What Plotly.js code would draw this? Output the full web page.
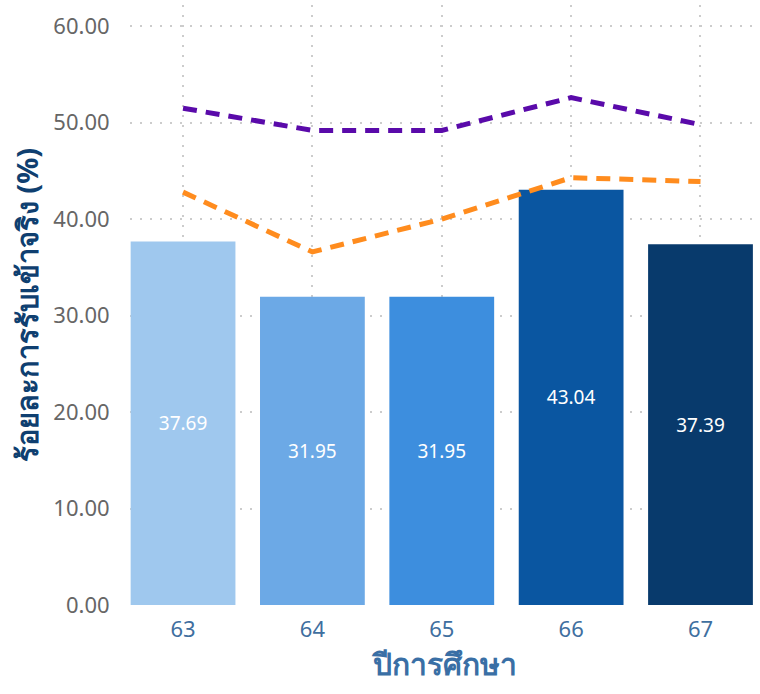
<!DOCTYPE html>
<html>
<head>
<meta charset="utf-8">
<script src="https://cdn.plot.ly/plotly-3.0.1.min.js"></script>
<style>html,body{margin:0;padding:0;background:#fff;overflow:hidden}#chart{width:760px;height:694px}</style>
</head>
<body>
<div id="chart"></div>
<script>
var categories = ['63', '64', '65', '66', '67'];
var actualRate = [37.69, 31.95, 31.95, 43.04, 37.39];
var purpleLine = [51.5, 49.2, 49.2, 52.6, 49.8];
var orangeLine = [42.8, 36.6, 40.0, 44.3, 43.9];
var barColors = ['#9FC8EE', '#6CA9E6', '#3D8EDE', '#0A56A1', '#083A6C'];
var yTickVals = [0, 10, 20, 30, 40, 50, 60];
var yTickText = ['0.00', '10.00', '20.00', '30.00', '40.00', '50.00', '60.00'];

var traces = [
  {
    type: 'bar', x: categories, y: actualRate,
    marker: {color: barColors},
    width: 0.81,
    text: actualRate.map(function(v){return v.toFixed(2);}),
    textposition: 'inside', insidetextanchor: 'middle',
    textfont: {color: '#ffffff', size: 19, family: 'Noto Sans, Open Sans, sans-serif'},
    hoverinfo: 'skip', showlegend: false
  },
  {
    type: 'scatter', mode: 'lines', x: categories, y: purpleLine,
    line: {color: '#5A0AAA', width: 5, dash: '14px,9px'},
    hoverinfo: 'skip', showlegend: false
  },
  {
    type: 'scatter', mode: 'lines', x: categories, y: orangeLine,
    line: {color: '#FF8C1E', width: 5, dash: '14px,9px'},
    hoverinfo: 'skip', showlegend: false
  }
];

var layout = {
  width: 760, height: 694,
  margin: {l: 130, r: 0, t: 5, b: 89},
  paper_bgcolor: '#ffffff', plot_bgcolor: '#ffffff',
  font: {family: 'Noto Sans, Open Sans, sans-serif'},
  showlegend: false,
  xaxis: {
    type: 'category',
    range: [-0.41, 4.46],
    showgrid: true, gridcolor: '#cccccc', gridwidth: 2, griddash: '2px,8px',
    zeroline: false, showline: false,
    ticks: 'outside', ticklen: 5, tickcolor: 'rgba(0,0,0,0)',
    tickfont: {size: 22, color: '#3F6F9F'},
    title: {text: 'ปีการศึกษา', font: {size: 30, color: '#3A6FA5', weight: 'bold'}, standoff: 6}
  },
  yaxis: {
    range: [0, 62.2],
    tickvals: yTickVals, ticktext: yTickText,
    showgrid: true, gridcolor: '#cccccc', gridwidth: 2, griddash: '2px,8px',
    zeroline: false, showline: false,
    ticks: 'outside', ticklen: 15, tickcolor: 'rgba(0,0,0,0)',
    tickfont: {size: 22, color: '#666666'},
    title: {text: 'ร้อยละการรับเข้าจริง (%)', font: {size: 29, color: '#0F3F70', weight: 'bold'}, standoff: 6}
  }
};

Plotly.newPlot('chart', traces, layout, {staticPlot: true, displayModeBar: false});
</script>
</body>
</html>
